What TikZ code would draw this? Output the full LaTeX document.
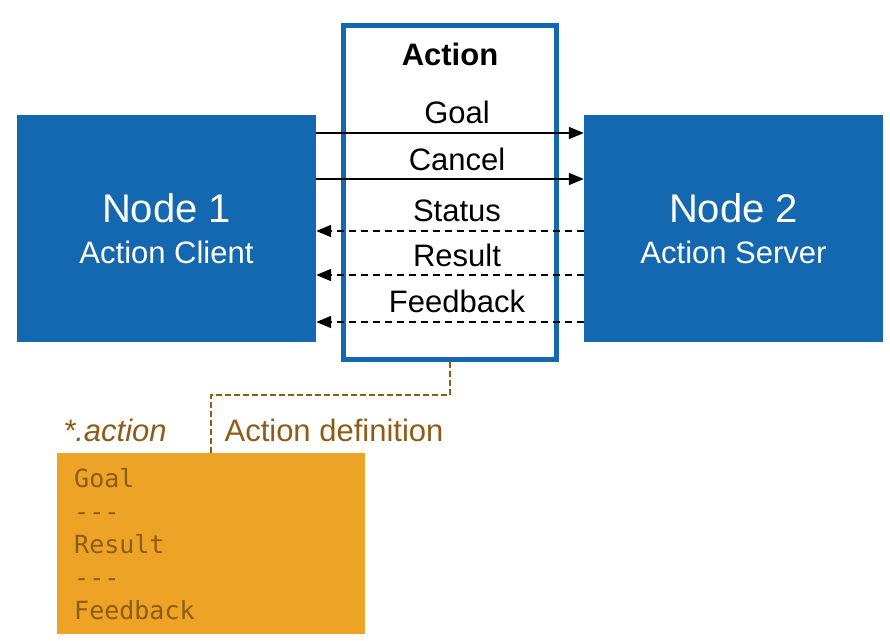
\documentclass[tikz,border=0pt]{standalone}
\usepackage{fontspec}
\setmainfont{Liberation Sans}
\newfontfamily\codefont{DejaVu Sans Mono}
\usetikzlibrary{arrows.meta}
\definecolor{nodeblue}{HTML}{1468B0}
\definecolor{deforange}{HTML}{EDA325}
\definecolor{defbrown}{HTML}{8E5C17}
\tikzset{
  rosnode/.style={fill=nodeblue, text=white, minimum width=299pt, minimum height=227pt, inner sep=0pt, align=center, font=\fontsize{31}{40}\selectfont},
  msgarrow/.style={line width=1.8pt, -{Triangle[length=15pt,width=12pt]}},
  msgback/.style={msgarrow, dash pattern=on 7pt off 5pt},
  msglabel/.style={font=\fontsize{31}{36}\selectfont, inner sep=0pt},
  brownlabel/.style={font=\fontsize{31}{36}\selectfont, text=defbrown, inner sep=0pt}
}
\begin{document}
\begin{tikzpicture}[x=1pt,y=-1pt]
\useasboundingbox (0,0) rectangle (890,640);
% nodes
\node[rosnode] (n1) at (166.5,228.5) {{\fontsize{40}{40}\selectfont Node 1}\\[1pt]Action Client};
\node[rosnode] (n2) at (733.5,228.5) {{\fontsize{40}{40}\selectfont Node 2}\\[1pt]Action Server};
% action box
\node[draw=nodeblue, line width=5pt, fill=white, minimum width=213pt, minimum height=334pt, inner sep=0pt] (act) at (450,192.5) {};
\node[font=\bfseries\fontsize{31}{36}\selectfont, inner sep=0pt] (acttitle) at (450,54) {Action};
% arrows
\draw[msgarrow] (n1.east |- 0,133) -- (n2.west |- 0,133);
\draw[msgarrow] (n1.east |- 0,179) -- (n2.west |- 0,179);
\draw[msgback] (n2.west |- 0,231) -- (n1.east |- 0,231);
\draw[msgback] (n2.west |- 0,275) -- (n1.east |- 0,275);
\draw[msgback] (n2.west |- 0,322) -- (n1.east |- 0,322);
\node[msglabel] (lgoal) at (457,112) {Goal};
\node[msglabel] (lcancel) at (457,159) {Cancel};
\node[msglabel] (lstatus) at (457,211) {Status};
\node[msglabel] (lresult) at (457,255) {Result};
\node[msglabel] (lfeed) at (457,301) {Feedback};
% definition box
\node[fill=deforange, anchor=north west, minimum height=181pt, text width=274pt, inner xsep=17pt, inner ysep=0pt, align=left, text=defbrown, font=\codefont\fontsize{25}{33}\selectfont] (def) at (57,453) {Goal\\---\\Result\\---\\Feedback};
\node[brownlabel, font=\itshape\fontsize{31}{36}\selectfont] (ext) at (115,430) {*.action};
\node[brownlabel] (deflabel) at (334,430) {Action definition};
\coordinate (bend) at (211,395);
\draw[defbrown, line width=2pt, dash pattern=on 6pt off 3pt] (act.south) |- (bend) -- (bend |- def.north);
\end{tikzpicture}
\end{document}
